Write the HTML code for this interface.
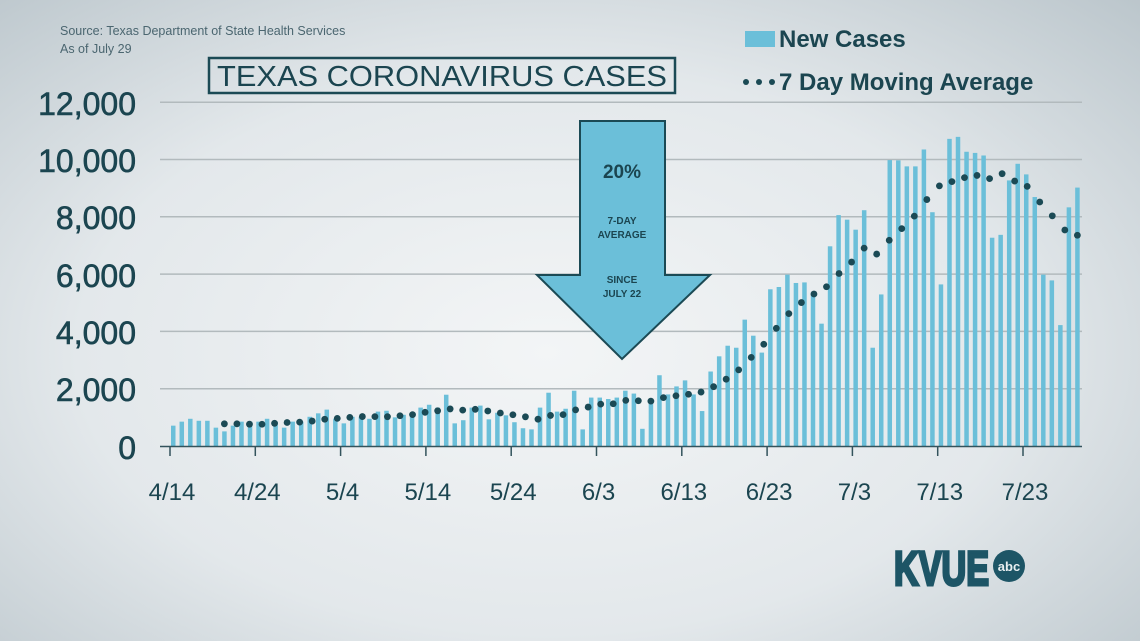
<!DOCTYPE html>
<html><head><meta charset="utf-8"><style>
html,body{margin:0;padding:0;width:1140px;height:641px;overflow:hidden}
body{background:radial-gradient(ellipse 75% 80% at 48% 55%,#f3f5f6 0%,#e3e8eb 55%,#b9c4ca 100%);font-family:"Liberation Sans",sans-serif}
</style></head><body>
<svg id="s" width="1140" height="641" xmlns="http://www.w3.org/2000/svg" style="position:absolute;left:0;top:0">
<g font-family="Liberation Sans, sans-serif" fill="#1b4550">
<text x="60" y="35" font-size="12.5" fill="#4b6670">Source: Texas Department of State Health Services</text>
<text x="60" y="53" font-size="12.5" fill="#4b6670">As of July 29</text>
<rect x="209" y="58" width="466" height="35" fill="none" stroke="#1b4a55" stroke-width="2.5"/>
<text x="442" y="86" font-size="29" text-anchor="middle" textLength="450" lengthAdjust="spacingAndGlyphs">TEXAS CORONAVIRUS CASES</text>
<rect x="745" y="31" width="30" height="16" fill="#6bbfd9"/>
<text x="779" y="47" font-size="24" font-weight="bold">New Cases</text>
<circle cx="746" cy="82" r="3" fill="#1b4a55"/><circle cx="759" cy="82" r="3" fill="#1b4a55"/><circle cx="772" cy="82" r="3" fill="#1b4a55"/>
<text x="779" y="90" font-size="24" font-weight="bold">7 Day Moving Average</text>
<g font-size="32" text-anchor="end" stroke="#1b4550" stroke-width="0.6">
<text x="136" y="115">12,000</text><text x="136" y="172">10,000</text><text x="136" y="229">8,000</text>
<text x="136" y="287">6,000</text><text x="136" y="344">4,000</text><text x="136" y="401">2,000</text><text x="136" y="459">0</text>
</g>
<g id="grid" stroke="#b2babd" stroke-width="1.5"></g>
<g id="bars" fill="#6bbfd9"></g>
<g id="xt" stroke="#33535c" stroke-width="1.5"></g>
<g id="xl" font-size="24" text-anchor="middle"></g>
<g id="dots" fill="#1b4a55"></g>
<polygon points="580,121 665,121 665,275 710,275 622,359 537,275 580,275" fill="#6bbfd9" stroke="#1b4a55" stroke-width="2"/>
<text x="622" y="178" font-size="19" font-weight="bold" text-anchor="middle">20%</text>
<text x="622" y="224" font-size="10" font-weight="bold" text-anchor="middle">7-DAY</text>
<text x="622" y="238" font-size="10" font-weight="bold" text-anchor="middle">AVERAGE</text>
<text x="622" y="283" font-size="10" font-weight="bold" text-anchor="middle">SINCE</text>
<text x="622" y="297" font-size="10" font-weight="bold" text-anchor="middle">JULY 22</text>
<text x="894" y="585" font-size="48" font-weight="bold" fill="#1d5566" stroke="#1d5566" stroke-width="3" textLength="95" lengthAdjust="spacingAndGlyphs">KVUE</text>
<circle cx="1009" cy="566" r="16" fill="#1d5566"/>
<text x="1009" y="571" font-size="13" font-weight="bold" fill="#e8eef0" text-anchor="middle">abc</text>
</g>
</svg>
<script>
var v=[710,850,950,880,880,640,510,710,850,850,850,950,850,640,850,850,1020,1140,1270,950,790,1020,1020,950,1200,1230,1000,1090,1160,1340,1440,1340,1790,790,900,1340,1410,930,1160,1070,830,620,580,1340,1860,1200,1300,1930,580,1690,1690,1640,1690,1930,1830,600,1590,2470,1800,2080,2290,1800,1220,2600,3130,3500,3430,4410,3850,3260,5470,5550,5980,5690,5710,5360,4270,6970,8060,7900,7550,8230,3430,5290,9980,9970,9760,9760,10350,8160,5640,10720,10790,10270,10230,10140,7270,7370,9270,9850,9480,8690,5980,5780,4220,8330,9020];
var NS="http://www.w3.org/2000/svg";
function el(p,t,a){var e=document.createElementNS(NS,t);for(var k in a)e.setAttribute(k,a[k]);document.getElementById(p).appendChild(e);return e;}
function Y(x){return 446-x*343.8/12000;}
for(var g=1;g<=6;g++){var y=Y(g*2000);el('grid','line',{x1:160,x2:1082,y1:y,y2:y});}
for(var i=0;i<v.length;i++){var x=171+8.53*i;el('bars','rect',{x:x,y:Y(v[i]),width:4.5,height:446-Y(v[i])});}
el('xt','line',{x1:160,x2:1082,y1:446.5,y2:446.5});
var labs=["4/14","4/24","5/4","5/14","5/24","6/3","6/13","6/23","7/3","7/13","7/23"];
for(var k=0;k<11;k++){var x=170+85.3*k;el('xt','line',{x1:x,x2:x,y1:446,y2:456});var t=el('xl','text',{x:x+2,y:500});t.textContent=labs[k];}
var ma=[];for(var i=6;i<v.length;i++){var s=0;for(var j=i-6;j<=i;j++)s+=v[j];ma.push([173.2+8.53*i,s/7]);}
var x0=ma[0][0],x1=ma[ma.length-1][0],n=Math.round((x1-x0)/12.6);
for(var d=0;d<=n;d++){var x=x0+(x1-x0)*d/n;var idx=(x-x0)/8.53,a=Math.floor(idx),f=idx-a;if(a>=ma.length-1){a=ma.length-2;f=1;}var val=ma[a][1]*(1-f)+ma[a+1][1]*f;el('dots','circle',{cx:x,cy:Y(val),r:3.4});}
</script>
</body></html>
